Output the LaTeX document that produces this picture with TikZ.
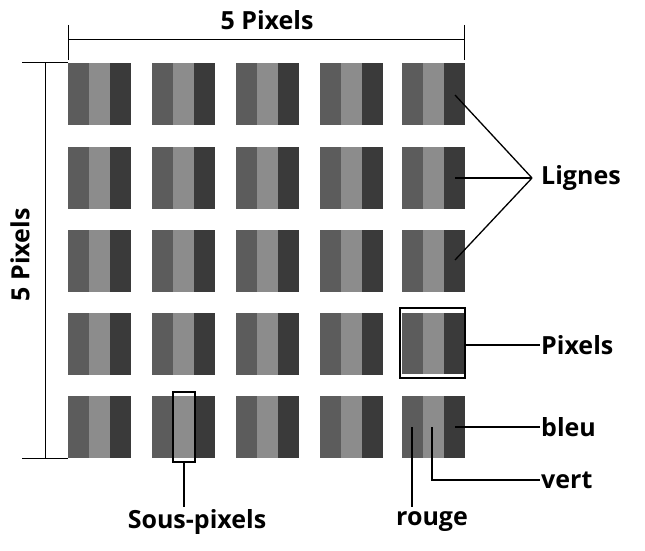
\documentclass[tikz,border=0pt]{standalone}
\usepackage{fontspec}
\setmainfont{Open Sans}
\begin{document}
\begin{tikzpicture}[x=1pt,y=-1pt,
  lbl/.style={font=\bfseries\fontsize{25}{28}\selectfont,inner sep=1pt},
  ln/.style={draw=black,line width=1.3pt}]
\definecolor{sr}{HTML}{5C5C5C}\definecolor{sg}{HTML}{8C8C8C}\definecolor{sb}{HTML}{3A3A3A}
\useasboundingbox (0,0) rectangle (645,551);
\foreach \x [count=\i] in {68,152,236,320,402}{
 \foreach \y [count=\j] in {63,147,230,313,396}{
  \fill[sr] (\x,\y) rectangle ++(21,62);
  \fill[sg] (\x+21,\y) rectangle ++(21,62);
  \fill[sb] (\x+42,\y) rectangle ++(21,62);
  \coordinate (p\i\j) at (\x+31.5,\y+31);
 }}
% top dimension
\node[lbl] (top) at (267,20) {5 Pixels};
\coordinate (ta) at (68,40); \coordinate (tb) at (464,40);
\draw[ln,line width=1pt] (ta) -- (tb);
\draw[ln,line width=1pt] (68,25) -- (68,60) (464,25) -- (464,60);
% left dimension
\node[lbl,rotate=90] (left) at (20,255) {5 Pixels};
\coordinate (la) at (45,63); \coordinate (lb) at (45,458);
\draw[ln,line width=1pt] (la) -- (lb);
\draw[ln,line width=1pt] (22,63) -- (68,63) (22,458) -- (68,458);
% Lignes
\node[lbl,anchor=west] (lig) at (540,178) {Lignes};
\coordinate (lc) at (532,178);
\draw[ln] (455,95) -- (lc); \draw[ln] (455,178) -- (lc); \draw[ln] (455,260) -- (lc);
% Pixels
\draw[black,line width=1.3pt] (400,308) rectangle (465,378);
\draw[white,line width=1.5pt] (401,311) -- (464,311) (401,375) -- (464,375);
\node[lbl,anchor=west] (pix) at (540,345) {Pixels};
\draw[ln] (465,345) -- (pix.west);
% bleu vert rouge
\node[lbl,anchor=west] (bleu) at (540,427) {bleu};
\draw[ln] (455,427) -- (bleu.west);
\node[lbl,anchor=west] (vert) at (540,480) {vert};
\draw[ln] (432,427) |- (vert.west);
\node[lbl] (rouge) at (432,522) {rouge};
\draw[ln] (412,427) -- (412,507);
% Sous-pixels
\draw[black,line width=1.3pt] (173,392) rectangle (195,462);
\node[lbl] (sous) at (197,522) {Sous-pixels};
\draw[ln] (184,462) -- (184,507);
\end{tikzpicture}
\end{document}
